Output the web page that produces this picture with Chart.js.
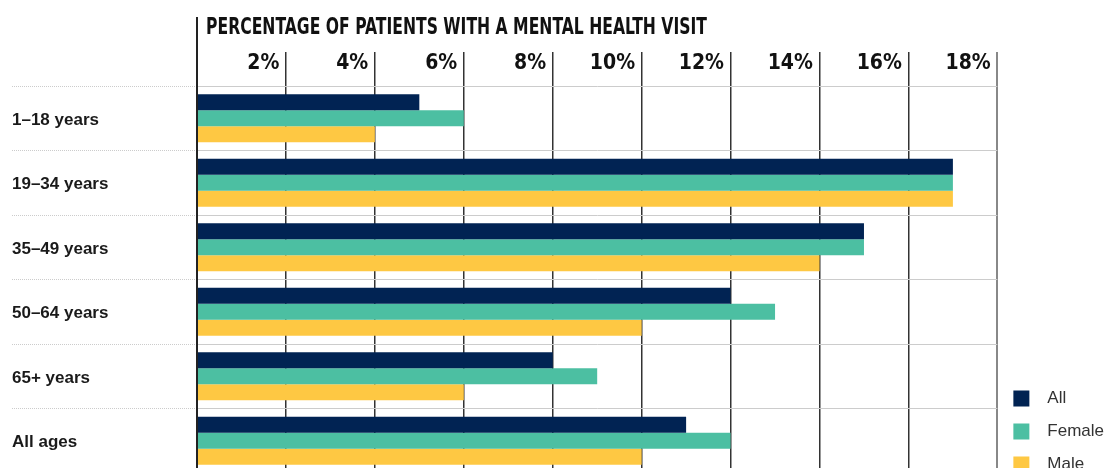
<!DOCTYPE html>
<html>
<head>
<meta charset="utf-8">
<title>Mental health visits by age</title>
<script src="https://cdn.jsdelivr.net/npm/chart.js@4.4.1/dist/chart.umd.min.js"></script>
<style>
  html, body { margin: 0; padding: 0; background: #fff; overflow: hidden; }
  canvas { display: block; }
</style>
</head>
<body>
<canvas id="visitChart" width="1105" height="489"></canvas>
<script>
const categories = ['1–18 years', '19–34 years', '35–49 years', '50–64 years', '65+ years', 'All ages'];
const allValues = [5, 17, 15, 12, 8, 11];
const femaleValues = [6, 17, 15, 13, 9, 12];
const maleValues = [4, 17, 14, 10, 6, 10];
const xTicks = [0, 2, 4, 6, 8, 10, 12, 14, 16, 18];

const chartTitle = 'PERCENTAGE OF PATIENTS WITH A MENTAL HEALTH VISIT';
const narrow = "'Liberation Sans Narrow', 'DejaVu Sans Condensed', sans-serif";

// title text and the tall zero line above the axis
const titlePlugin = {
  id: 'topTitle',
  afterDraw(chart) {
    const ctx = chart.ctx;
    const x0 = chart.scales.x.getPixelForValue(0);
    ctx.save();
    ctx.strokeStyle = '#222';
    ctx.lineWidth = 2;
    ctx.beginPath();
    ctx.moveTo(x0, 17);
    ctx.lineTo(x0, chart.height);
    ctx.stroke();

    ctx.font = 'bold 23px ' + narrow;
    ctx.fillStyle = '#111';
    ctx.textBaseline = 'alphabetic';
    const w = ctx.measureText(chartTitle).width;
    ctx.translate(x0 + 9, 34);
    ctx.scale(501 / w, 1);
    ctx.fillText(chartTitle, 0, 0);
    ctx.restore();
  }
};

const ctx = document.getElementById('visitChart').getContext('2d');

new Chart(ctx, {
  type: 'bar',
  data: {
    labels: categories,
    datasets: [
      { label: 'All', data: allValues, backgroundColor: '#012353' },
      { label: 'Female', data: femaleValues, backgroundColor: '#4cbfa2' },
      { label: 'Male', data: maleValues, backgroundColor: '#fec843' }
    ]
  },
  options: {
    indexAxis: 'y',
    responsive: false,
    animation: false,
    categoryPercentage: 0.744,
    barPercentage: 1,
    layout: { padding: { left: 12, top: 40, right: -9, bottom: 0 } },
    plugins: {
      title: { display: false },
      tooltip: { enabled: false },
      legend: {
        position: 'right',
        align: 'end',
        labels: {
          boxWidth: 16,
          boxHeight: 16,
          padding: 16,
          color: '#333',
          font: { family: "'Liberation Sans', Arial, sans-serif", size: 17 },
          // a little more room between swatch and text
          generateLabels: chart => Chart.defaults.plugins.legend.labels.generateLabels(chart)
            .map(item => ({ ...item, text: '  ' + item.text }))
        }
      }
    },
    scales: {
      x: {
        type: 'linear',
        position: 'top',
        min: 0,
        max: 18,
        afterBuildTicks: scale => { scale.ticks = xTicks.map(v => ({ value: v })); },
        afterFit: scale => { scale.height = 46; },
        ticks: {
          align: 'end',
          padding: -24,
          color: '#111',
          font: { family: narrow, size: 21, weight: 'bold' },
          callback: v => v === 0 ? '' : v + '% '
        },
        grid: {
          tickLength: 34,
          color: c => c.tick.value === 18 ? '#888' : '#333',
          tickColor: c => c.tick.value === 18 ? '#888' : '#333',
          lineWidth: c => c.tick.value === 18 ? 2 : 1.5,
          tickWidth: c => c.tick.value === 18 ? 2 : 1.5
        },
        border: { display: false }
      },
      x2: {
        type: 'linear',
        position: 'bottom',
        display: true,
        afterFit: scale => { scale.height = 16; },
        ticks: { display: false },
        grid: { display: false, drawTicks: false },
        border: { display: false }
      },
      y: {
        afterFit: scale => { scale.width = 185; },
        ticks: {
          crossAlign: 'far',
          labelOffset: 2,
          color: '#1a1a1a',
          font: { family: "'Liberation Sans', Arial, sans-serif", size: 17, weight: 'bold' }
        },
        grid: {
          offset: true,
          tickLength: 185,
          color: '#cccccc',
          tickColor: '#cccccc',
          lineWidth: 1,
          tickWidth: 1,
          borderDash: [1, 1],
          tickBorderDash: [1, 1]
        },
        border: { display: true, color: '#222', width: 2 }
      }
    }
  },
  plugins: [titlePlugin]
});
</script>
</body>
</html>
